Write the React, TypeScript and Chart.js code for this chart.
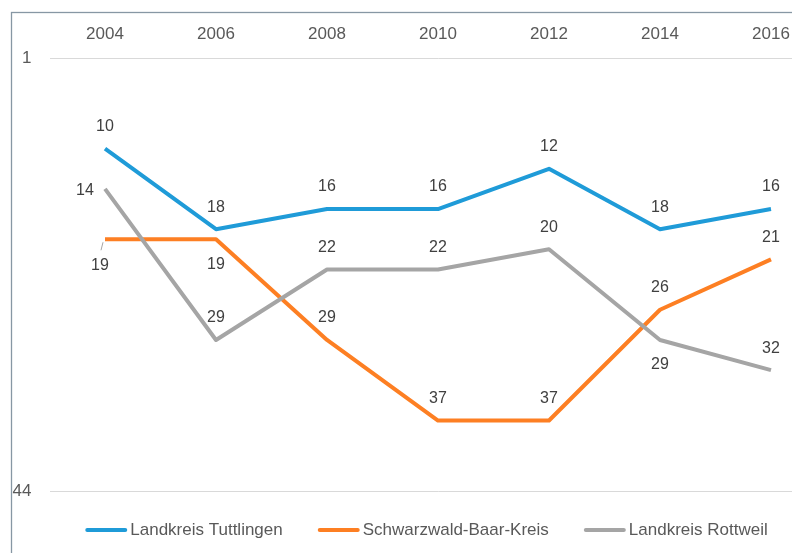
import React, { useEffect, useRef } from "react";
import { Chart, registerables } from "chart.js";

Chart.register(...registerables);

const years = ["2004", "2006", "2008", "2010", "2012", "2014", "2016"];
const tuttlingen = [10, 18, 16, 16, 12, 18, 16];
const schwarzwald = [19, 19, 29, 37, 37, 26, 21];
const rottweil = [14, 29, 22, 22, 20, 29, 32];
const seriesNames = ["Landkreis Tuttlingen", "Schwarzwald-Baar-Kreis", "Landkreis Rottweil"];
const yTickValues = [1, 44];

// label placement per point: 'above' | 'below' | 'left' | 'belowLeader'
const tuttlingenPos = ["above", "above", "above", "above", "above", "above", "above"];
const schwarzwaldPos = ["belowLeader", "below", "above", "above", "above", "above", "above"];
const rottweilPos = ["left", "above", "above", "above", "above", "below", "above"];

const FONT = "'Liberation Sans', Arial, sans-serif";
const colors = ["#1f9bd8", "#fd7f23", "#a5a5a5"];

const bgBorderPlugin = {
  id: "bgBorder",
  beforeDraw(chart: any) {
    const ctx = chart.ctx;
    ctx.save();
    ctx.fillStyle = "#ffffff";
    ctx.fillRect(0, 0, chart.width, chart.height);
    ctx.strokeStyle = "#8797a4";
    ctx.lineWidth = 1.3;
    ctx.strokeRect(11.5, 12.5, 2000, 2000);
    ctx.restore();
  },
};

const labelPlugin = {
  id: "pointLabels",
  afterDatasetsDraw(chart: any) {
    const ctx = chart.ctx;
    const positions = [tuttlingenPos, schwarzwaldPos, rottweilPos];
    ctx.save();
    ctx.font = `16px ${FONT}`;
    ctx.fillStyle = "#404040";
    ctx.textAlign = "center";
    ctx.textBaseline = "middle";
    chart.data.datasets.forEach((ds: any, di: number) => {
      const meta = chart.getDatasetMeta(di);
      meta.data.forEach((pt: any, i: number) => {
        const pos = positions[di][i];
        const txt = String(ds.data[i]);
        let x = pt.x;
        let y = pt.y;
        if (pos === "above") y -= 22;
        else if (pos === "below") y += 25;
        else if (pos === "left") { x -= 20; y += 2; }
        else if (pos === "belowLeader") {
          x -= 5; y += 26;
          ctx.save();
          ctx.strokeStyle = "#a6a6a6";
          ctx.lineWidth = 1;
          ctx.beginPath();
          ctx.moveTo(pt.x - 2, pt.y + 3);
          ctx.lineTo(pt.x - 4, pt.y + 11);
          ctx.stroke();
          ctx.restore();
        }
        ctx.fillText(txt, x, y);
      });
    });
    ctx.restore();
  },
};

const legendPlugin = {
  id: "customLegend",
  afterDraw(chart: any) {
    const ctx = chart.ctx;
    ctx.save();
    ctx.font = `17px ${FONT}`;
    const lineW = 42;
    const textGap = 3;
    const itemGap = 35;
    const widths = seriesNames.map((n) => lineW + textGap + ctx.measureText(n).width);
    const total = widths.reduce((a, b) => a + b, 0) + itemGap * (seriesNames.length - 1);
    const centerX = 426.5;
    const y = 530;
    let x = centerX - total / 2;
    seriesNames.forEach((name, i) => {
      ctx.strokeStyle = colors[i];
      ctx.lineWidth = 4;
      ctx.lineCap = "round";
      ctx.beginPath();
      ctx.moveTo(x + 2, y);
      ctx.lineTo(x + lineW - 2, y);
      ctx.stroke();
      ctx.fillStyle = "#595959";
      ctx.textAlign = "left";
      ctx.textBaseline = "middle";
      ctx.fillText(name, x + lineW + textGap, y);
      x += widths[i] + itemGap;
    });
    ctx.restore();
  },
};

export default function App() {
  const ref = useRef<HTMLCanvasElement>(null);
  useEffect(() => {
    if (!ref.current) return;
    const mk = (label: string, data: number[], color: string, order: number) => ({
      label,
      data,
      borderColor: color,
      backgroundColor: color,
      borderWidth: 4,
      pointRadius: 0,
      tension: 0,
      borderJoinStyle: "round" as const,
      order,
    });
    const chart = new Chart(ref.current, {
      type: "line",
      data: {
        labels: years,
        datasets: [
          mk(seriesNames[0], tuttlingen, colors[0], 3),
          mk(seriesNames[1], schwarzwald, colors[1], 2),
          mk(seriesNames[2], rottweil, colors[2], 1),
        ],
      },
      options: {
        responsive: false,
        animation: false,
        layout: { padding: { top: 0, left: 0, right: 25.5, bottom: 62 } },
        plugins: { legend: { display: false }, tooltip: { enabled: false } },
        scales: {
          x: {
            position: "top",
            offset: true,
            grid: { display: false },
            border: { display: false },
            afterFit: (s: any) => { s.height = 58; },
            ticks: { padding: 5, color: "#595959", font: { family: FONT, size: 17 }, maxRotation: 0 },
          },
          y: {
            reverse: true,
            min: 1,
            max: 44,
            afterBuildTicks: (s: any) => { s.ticks = yTickValues.map((v) => ({ value: v })); },
            afterFit: (s: any) => { s.width = 49.5; },
            grid: { color: "#d9d9d9", lineWidth: 1, drawTicks: false },
            border: { display: false },
            ticks: { padding: 18, color: "#595959", font: { family: FONT, size: 17 } },
          },
        },
      },
      plugins: [bgBorderPlugin, labelPlugin, legendPlugin],
    });
    return () => chart.destroy();
  }, []);
  return (
    <div style={{ position: "absolute", left: 0, top: 0, width: 792, height: 553, overflow: "hidden", background: "#fff" }}>
      <canvas ref={ref} width={852} height={553} style={{ display: "block" }} />
    </div>
  );
}
